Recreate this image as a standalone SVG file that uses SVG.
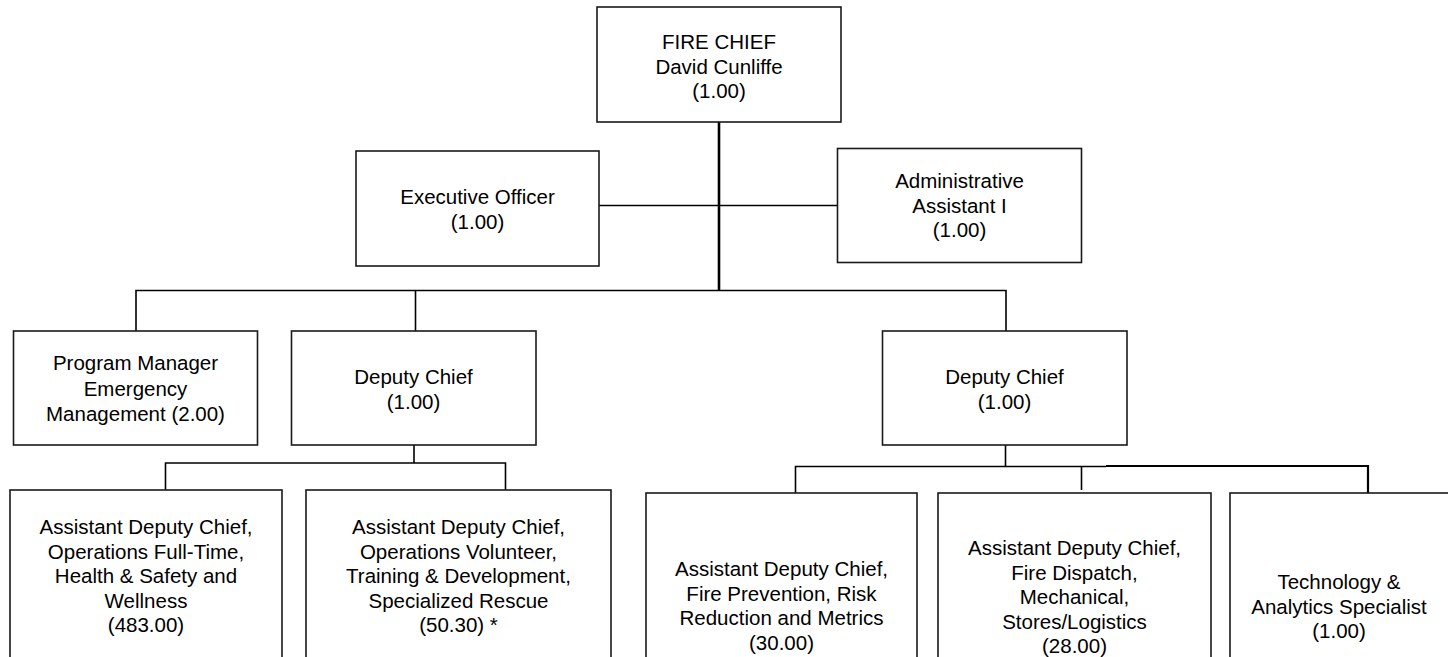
<svg xmlns="http://www.w3.org/2000/svg" width="1448" height="657" viewBox="0 0 1448 657">
<style>
.box{fill:#fff;stroke:#1a1a1a;stroke-width:1.6}
.t{font-family:"Liberation Sans",Arial,sans-serif;font-size:20.5px;fill:#000;text-anchor:middle}
.c{fill:none;stroke:#000;stroke-width:1.6}
.ct{fill:none;stroke:#000;stroke-width:2.6}
</style>
<rect width="1448" height="657" fill="#fff"/>
<g id="connectors">
<line class="ct" x1="719" y1="122" x2="719" y2="291"/>
<line class="c" x1="599" y1="205.5" x2="837" y2="205.5"/>
<polyline class="c" points="136,331 136,290.5 1006,290.5 1006,331"/>
<line class="c" x1="415.5" y1="290.5" x2="415.5" y2="331"/>
<line class="c" x1="414" y1="445" x2="414" y2="463"/>
<polyline class="c" points="165.5,490 165.5,463 505.5,463 505.5,490"/>
<line class="c" x1="1005.5" y1="445" x2="1005.5" y2="466.5"/>
<polyline class="c" points="795.5,493 795.5,466.5 1106,466.5"/>
<polyline class="c" points="1106,466 1368,466 1368,493" style="stroke-width:2.2"/>
<line class="c" x1="1081.5" y1="466.5" x2="1081.5" y2="490"/>
</g>
<g id="fire-chief">
<rect class="box" x="597" y="7" width="244" height="115"/>
<text class="t" x="719" y="49">FIRE CHIEF</text>
<text class="t" x="719" y="73.5">David Cunliffe</text>
<text class="t" x="719" y="98">(1.00)</text>
</g>
<g id="executive-officer">
<rect class="box" x="356" y="151" width="243" height="115"/>
<text class="t" x="477.5" y="204">Executive Officer</text>
<text class="t" x="477.5" y="229">(1.00)</text>
</g>
<g id="admin-assistant">
<rect class="box" x="837.5" y="148.5" width="244" height="114"/>
<text class="t" x="959.5" y="188">Administrative</text>
<text class="t" x="959.5" y="212.5">Assistant I</text>
<text class="t" x="959.5" y="237">(1.00)</text>
</g>
<g id="program-manager">
<rect class="box" x="13.5" y="331" width="244" height="114"/>
<text class="t" x="135.5" y="370">Program Manager</text>
<text class="t" x="135.5" y="395.5">Emergency</text>
<text class="t" x="135.5" y="421">Management (2.00)</text>
</g>
<g id="deputy-chief-left">
<rect class="box" x="291.5" y="331" width="244.5" height="114"/>
<text class="t" x="413.5" y="383.5">Deputy Chief</text>
<text class="t" x="413.5" y="408.5">(1.00)</text>
</g>
<g id="deputy-chief-right">
<rect class="box" x="882.5" y="331" width="244.5" height="114"/>
<text class="t" x="1004.5" y="384">Deputy Chief</text>
<text class="t" x="1004.5" y="409">(1.00)</text>
</g>
<g id="adc-operations-full-time">
<rect class="box" x="10" y="490" width="272" height="190"/>
<text class="t" x="146" y="534">Assistant Deputy Chief,</text>
<text class="t" x="146" y="558.5">Operations Full-Time,</text>
<text class="t" x="146" y="583">Health &amp; Safety and</text>
<text class="t" x="146" y="607.5">Wellness</text>
<text class="t" x="146" y="632">(483.00)</text>
</g>
<g id="adc-operations-volunteer">
<rect class="box" x="306" y="490" width="305" height="190"/>
<text class="t" x="458.5" y="534">Assistant Deputy Chief,</text>
<text class="t" x="458.5" y="558.5">Operations Volunteer,</text>
<text class="t" x="458.5" y="583">Training &amp; Development,</text>
<text class="t" x="458.5" y="607.5">Specialized Rescue</text>
<text class="t" x="458.5" y="632">(50.30) *</text>
</g>
<g id="adc-fire-prevention">
<rect class="box" x="646" y="493" width="271" height="190"/>
<text class="t" x="781.5" y="576">Assistant Deputy Chief,</text>
<text class="t" x="781.5" y="600.5">Fire Prevention, Risk</text>
<text class="t" x="781.5" y="625">Reduction and Metrics</text>
<text class="t" x="781.5" y="649.5">(30.00)</text>
</g>
<g id="adc-fire-dispatch">
<rect class="box" x="938" y="493" width="273" height="190"/>
<text class="t" x="1074.5" y="555">Assistant Deputy Chief,</text>
<text class="t" x="1074.5" y="579.5">Fire Dispatch,</text>
<text class="t" x="1074.5" y="604">Mechanical,</text>
<text class="t" x="1074.5" y="628.5">Stores/Logistics</text>
<text class="t" x="1074.5" y="653">(28.00)</text>
</g>
<g id="technology-analytics">
<rect class="box" x="1230" y="493" width="230" height="190"/>
<text class="t" x="1339" y="589">Technology &amp;</text>
<text class="t" x="1339" y="613.5">Analytics Specialist</text>
<text class="t" x="1339" y="638">(1.00)</text>
</g>
</svg>
